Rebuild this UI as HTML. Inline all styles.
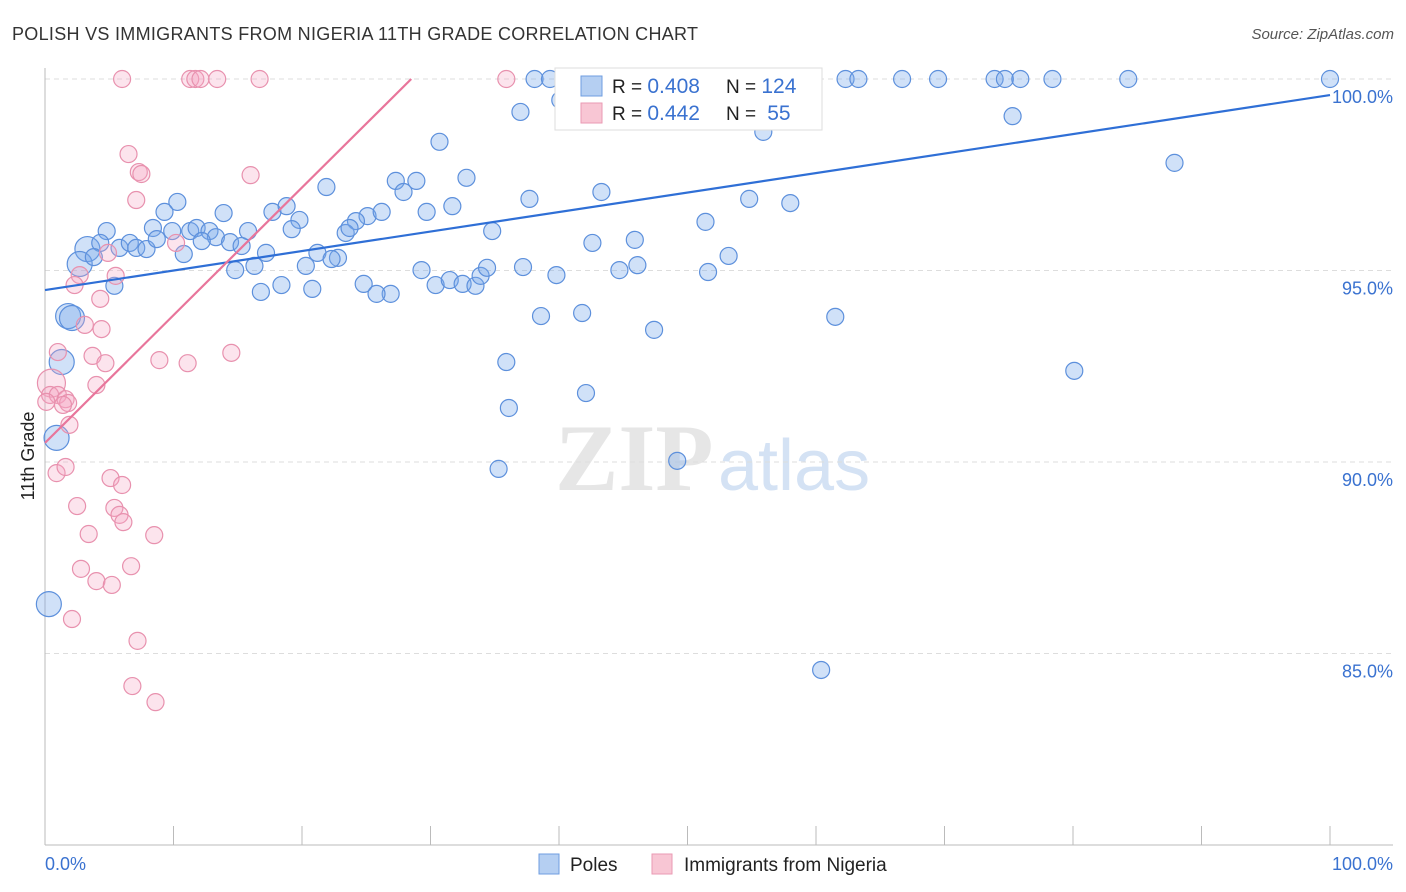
<!DOCTYPE html>
<html><head><meta charset="utf-8"><style>
body{margin:0;background:#fff;font-family:"Liberation Sans",sans-serif;}
svg{display:block}
</style></head><body>
<svg id="chart" width="1406" height="892" xmlns="http://www.w3.org/2000/svg">
<text x="12" y="40" font-size="18" fill="#333" textLength="686">POLISH VS IMMIGRANTS FROM NIGERIA 11TH GRADE CORRELATION CHART</text>
<text x="1394" y="39" font-size="15" fill="#555" font-style="italic" text-anchor="end">Source: ZipAtlas.com</text>
<text x="555" y="490" font-size="95" fill="#e6e6e6" font-family="Liberation Serif" font-weight="bold">ZIP</text>
<text x="718" y="490" font-size="72" fill="#d4e2f4">atlas</text>
<g id="grid"></g>
<g id="pts"></g>
<g id="lines"></g>
<text transform="translate(34,456) rotate(-90)" font-size="18" fill="#222" text-anchor="middle">11th Grade</text>
<text x="45" y="870" font-size="18" fill="#3a72d0">0.0%</text>
<text x="1393" y="870" font-size="18" fill="#3a72d0" text-anchor="end">100.0%</text>
<g>
<rect x="555" y="68" width="267" height="62" fill="#fff" stroke="#ddd"/>
<rect x="581" y="76" width="21" height="20" fill="#b5cff2" stroke="#6f9ee0"/>
<rect x="581" y="103" width="21" height="20" fill="#f8c6d4" stroke="#ea9ab3"/>
<text x="612" y="93" font-size="19" fill="#222">R = <tspan fill="#3a72d0" font-size="21">0.408</tspan></text>
<text x="726" y="93" font-size="19" fill="#222">N = <tspan fill="#3a72d0" font-size="21">124</tspan></text>
<text x="612" y="120" font-size="19" fill="#222">R = <tspan fill="#3a72d0" font-size="21">0.442</tspan></text>
<text x="726" y="120" font-size="19" fill="#222">N = <tspan fill="#3a72d0" font-size="21">&#160;55</tspan></text>
</g>
<g>
<rect x="539" y="854" width="20" height="20" fill="#b5cff2" stroke="#6f9ee0"/>
<text x="570" y="871" font-size="19" fill="#222">Poles</text>
<rect x="652" y="854" width="20" height="20" fill="#f8c6d4" stroke="#ea9ab3"/>
<text x="684" y="871" font-size="19" fill="#222">Immigrants from Nigeria</text>
</g>
</svg>
<script>
const yTicks=[100,95,90,85];
const xTicks=[0,10,20,30,40,50,60,70,80,90,100];
const polesX=[38.1,39.3,41.2,43.2,46.3,47.9,50.2,54.1,55.6,62.3,63.3,66.7,69.5,73.9,74.7,75.9,78.4,84.3,100,51.8,44.7,57.3,49.0,
37.0,40.1,40.9,75.3,55.9,30.7,87.9,32.8,27.3,28.9,27.9,21.9,43.3,37.7,54.8,58.0,31.7,29.7,25.1,26.2,24.2,23.4,23.7,19.8,17.7,18.8,13.9,10.3,9.3,4.8,3.3,4.3,5.8,6.6,7.1,7.9,8.4,8.7,9.9,11.3,11.8,12.8,13.3,12.2,14.4,15.3,15.8,17.2,19.2,10.8,5.4,2.7,3.8,21.2,22.8,22.3,20.3,16.3,14.8,16.8,18.4,20.8,24.8,26.9,29.3,30.4,31.5,32.5,33.5,33.9,34.4,34.8,37.2,39.8,42.6,45.9,44.7,46.1,38.6,41.8,47.4,51.4,53.2,51.6,61.5,80.1,35.9,42.1,36.1,35.3,49.2,60.4,1.8,2.1,1.3,0.9,0.3,25.8];
const polesY=[100,100,100,100,100,100,100,100,100,100,100,100,100,100,100,100,100,100,100,100,100,100,100,
99.14,99.45,99.14,99.03,98.62,98.36,97.81,97.42,97.34,97.34,97.05,97.18,97.05,96.87,96.87,96.76,96.68,96.53,96.42,96.53,96.29,95.98,96.11,96.32,96.53,96.68,96.50,96.79,96.53,96.03,95.56,95.72,95.59,95.72,95.59,95.56,96.11,95.82,96.03,96.03,96.11,96.03,95.87,95.77,95.74,95.64,96.03,95.46,96.08,95.43,94.60,95.17,95.35,95.46,95.33,95.30,95.12,95.12,95.01,94.44,94.62,94.52,94.65,94.39,95.01,94.62,94.75,94.65,94.60,94.86,95.07,96.03,95.09,94.88,95.72,95.80,95.01,95.14,93.81,93.89,93.45,96.27,95.38,94.96,93.79,92.38,92.61,91.80,91.41,89.82,90.03,84.57,93.81,93.76,92.61,90.63,86.29,94.39];
const polesBig=[53,74,115,116,117,118,119];
const nigX=[6.0,11.3,11.7,12.1,13.4,16.7,35.9,6.5,7.3,7.5,16.0,7.1,10.2,4.9,5.5,2.7,2.3,4.3,3.1,4.4,1.0,3.7,4.7,8.9,11.1,14.5,0.5,4.0,0.4,1.0,1.6,1.8,1.4,1.9,0.9,1.6,5.1,6.0,2.5,5.4,5.8,6.1,8.5,3.4,2.8,6.7,4.0,5.2,2.1,7.2,6.8,8.6,0.1];
const nigY=[100,100,100,100,100,100,100,98.04,97.57,97.52,97.49,96.84,95.72,95.46,94.86,94.88,94.62,94.26,93.58,93.47,92.87,92.77,92.58,92.66,92.58,92.85,92.06,92.01,91.75,91.75,91.64,91.54,91.49,90.97,89.71,89.87,89.58,89.40,88.85,88.80,88.62,88.43,88.09,88.12,87.21,87.28,86.89,86.79,85.90,85.33,84.15,83.73,91.57];
const nigBig=[26];
const polesFit=[94.49,99.58]; // y at x=0, x=100
const nigFit=[90.5,100,28.5]; // y at 0, y at x_end, x_end
const NS='http://www.w3.org/2000/svg';
const sx=v=>45+v*12.85, sy=v=>79+(100-v)*38.3;
function mk(t,a,p){const e=document.createElementNS(NS,t);for(const k in a)e.setAttribute(k,a[k]);p.appendChild(e);return e;}
const grid=document.getElementById('grid');
yTicks.forEach(t=>{
 const l=mk('line',{x1:45,x2:1393,y1:sy(t),y2:sy(t),stroke:'#ddd','stroke-dasharray':'5,4'},grid);
 
 
 const tx=mk('text',{x:1393,y:sy(t)+24,'font-size':18,fill:'#3a72d0','text-anchor':'end'},grid);
 tx.textContent=t.toFixed(1)+'%';
 
 
});
const ax=mk('line',{x1:45,x2:45,y1:68,y2:845,stroke:'#bbb'},grid);


const bx=mk('line',{x1:45,x2:1393,y1:845,y2:845,stroke:'#bbb'},grid);


xTicks.forEach(t=>{
 const l=mk('line',{x1:sx(t),x2:sx(t),y1:826,y2:845,stroke:'#bbb'},grid);
 
 
});
const pts=document.getElementById('pts');
polesX.forEach((x,i)=>{
 const c=mk('circle',{cx:sx(x),cy:sy(polesY[i]),r:polesBig.includes(i)?12.5:8.5,fill:'rgba(120,170,235,0.35)',stroke:'#5d90dc','stroke-width':1.2},pts);
 
 
});
nigX.forEach((x,i)=>{
 const c=mk('circle',{cx:sx(x),cy:sy(nigY[i]),r:nigBig.includes(i)?14:8.5,fill:'rgba(245,165,195,0.3)',stroke:'#e891ae','stroke-width':1.2},pts);
 
 
});
const lines=document.getElementById('lines');
const l1=mk('line',{x1:sx(0),y1:sy(polesFit[0]),x2:sx(100),y2:sy(polesFit[1]),stroke:'#2f6fd6','stroke-width':2.2},lines);


const l2=mk('line',{x1:sx(0),y1:sy(nigFit[0]),x2:sx(nigFit[2]),y2:sy(nigFit[1]),stroke:'#e8759b','stroke-width':2.2},lines);


</script>
</body></html>
